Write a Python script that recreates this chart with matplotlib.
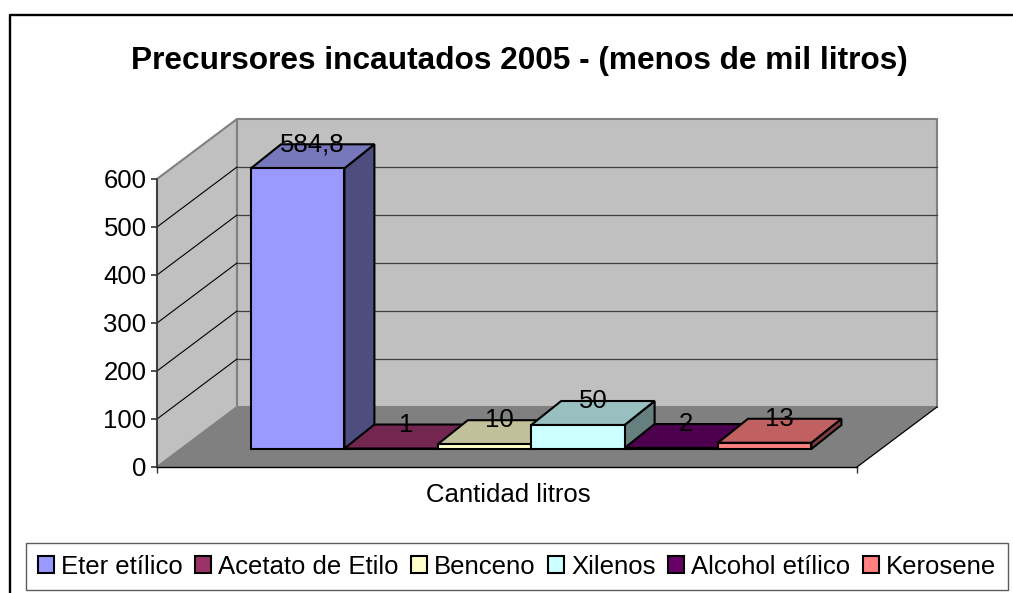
import matplotlib
matplotlib.use('Agg')
import matplotlib.pyplot as plt
from matplotlib.lines import Line2D
from matplotlib.patches import Polygon, Rectangle

plt.rcParams['font.family'] = ['Liberation Sans', 'DejaVu Sans']

W, H = 1013, 593

names = ['Eter etílico', 'Acetato de Etilo', 'Benceno', 'Xilenos', 'Alcohol etílico', 'Kerosene']
values = [584.8, 1, 10, 50, 2, 13]
labels = ['584,8', '1', '10', '50', '2', '13']
front = ['#9999FF', '#993366', '#FFFFCC', '#CCFFFF', '#660066', '#FF8080']
top = ['#7777BB', '#732650', '#C0C09A', '#99C0C0', '#4D004D', '#C06060']
side = ['#4D4D80', '#4D1A33', '#808066', '#668080', '#330033', '#804040']
y_ticks = [0, 100, 200, 300, 400, 500, 600]

# axes sits on the front of the plot box, x runs 0-1 across the category
left, right, ymin, ymax = 157, 857, 467, 179
wall_dx, wall_dy = 80 / 700, 125      # depth of floor and walls
front_dx, front_dy = 24 / 700, 37.5   # where the bars start in depth
bar_dx, bar_dy = 30 / 700, 50         # depth of one bar
bar_start = 70 / 700
bar_w = 93.4 / 700

fig = plt.figure(figsize=(W / 100, H / 100), dpi=100)
fig.patch.set_facecolor('white')

# outer border, only top and left are inside the picture
fig.add_artist(Line2D([9.5 / W, 9.5 / W, 1], [0, 1 - 15 / H, 1 - 15 / H],
                      transform=fig.transFigure, color='black', lw=1.7))

ax = fig.add_axes([left / W, 1 - ymin / H, (right - left) / W, (ymin - ymax) / H])
ax.set_xlim(0, 1)
ax.set_ylim(0, 600)
ax.patch.set_visible(False)
for s in ['top', 'right']:
    ax.spines[s].set_visible(False)
ax.spines['left'].set_color('#333333')
ax.spines['left'].set_linewidth(1.2)
ax.spines['bottom'].set_color('black')
ax.spines['bottom'].set_linewidth(1.0)

# walls and floor
ax.add_patch(Polygon([(0, 0), (wall_dx, wall_dy), (wall_dx, 600 + wall_dy), (0, 600)],
                     fc='#C0C0C0', ec='#808080', lw=1.5, clip_on=False, zorder=1))
ax.add_patch(Polygon([(wall_dx, wall_dy), (1 + wall_dx, wall_dy),
                      (1 + wall_dx, 600 + wall_dy), (wall_dx, 600 + wall_dy)],
                     fc='#C0C0C0', ec='#808080', lw=1.5, clip_on=False, zorder=1))
ax.add_patch(Polygon([(0, 0), (1, 0), (1 + wall_dx, wall_dy), (wall_dx, wall_dy)],
                     fc='#808080', ec='none', clip_on=False, zorder=1.5))
ax.plot([1, 1 + wall_dx], [0, wall_dy], color='black', lw=0.9, clip_on=False, zorder=1.6)

for t in y_ticks[1:-1]:
    ax.plot([0, wall_dx], [t, t + wall_dy], color='black', lw=0.8, clip_on=False, zorder=1.2)
    ax.plot([wall_dx, 1 + wall_dx], [t + wall_dy, t + wall_dy],
            color='#404040', lw=0.9, clip_on=False, zorder=1.2)

# bars, left to right
for i, v in enumerate(values):
    x0 = bar_start + i * bar_w + front_dx
    x1 = x0 + bar_w
    y0 = front_dy
    y1 = front_dy + v
    z = 3 + i
    ax.add_patch(Polygon([(x1, y0), (x1 + bar_dx, y0 + bar_dy), (x1 + bar_dx, y1 + bar_dy), (x1, y1)],
                         fc=side[i], ec='black', lw=1.5, clip_on=False, zorder=z))
    ax.add_patch(Polygon([(x0, y1), (x1, y1), (x1 + bar_dx, y1 + bar_dy), (x0 + bar_dx, y1 + bar_dy)],
                         fc=top[i], ec='black', lw=1.5, clip_on=False, zorder=z))
    ax.add_patch(Rectangle((x0, y0), bar_w, v, fc=front[i], ec='black', lw=1.5, clip_on=False, zorder=z))
    ax.text((x0 + x1) / 2 + bar_dx / 2, y1 + bar_dy, labels[i], ha='center', va='center',
            fontsize=18.5, color='black', zorder=20)

ax.set_yticks(y_ticks)
ax.set_xticks([0, 1])
ax.set_xticklabels(['', ''])
ax.tick_params(axis='y', length=4.5, width=1.2, color='#333333', labelsize=18.5, pad=3)
ax.tick_params(axis='x', length=4.5, width=1.0, color='#333333')

fig.text(519 / W, 1 - 60.5 / H, 'Precursores incautados 2005 - (menos de mil litros)',
         ha='center', va='center', fontsize=22.8, fontweight='bold')
fig.text(508 / W, 1 - 495 / H, 'Cantidad litros', ha='center', va='center', fontsize=18.5)

# legend box
handles = [Rectangle((0, 0), 1, 1, fc=c, ec='black', lw=1.5) for c in front]
leg = fig.legend(handles, names, loc='center', bbox_to_anchor=(517 / W, 1 - 566.5 / H),
                 ncol=6, fontsize=18.5, frameon=True, fancybox=False, edgecolor='#333333',
                 handlelength=0.62, handleheight=0.62, handletextpad=0.27, columnspacing=0.49,
                 borderpad=0.45, borderaxespad=0)
leg.get_frame().set_linewidth(1.0)

fig.savefig('out.png', dpi=100)
